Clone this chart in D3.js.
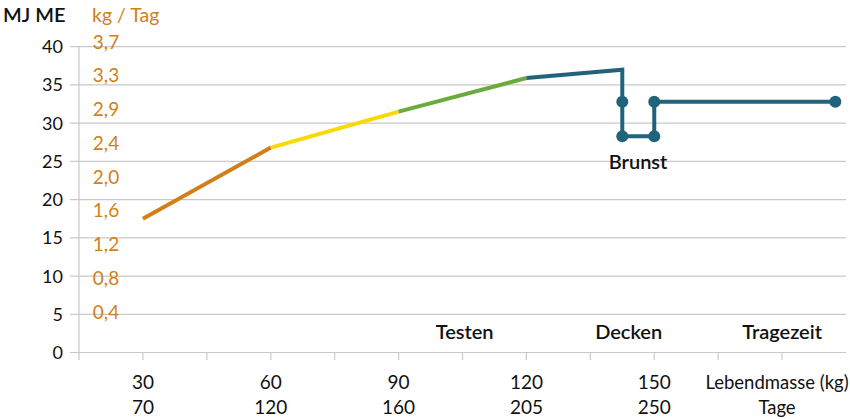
<!DOCTYPE html>
<html>
<head>
<meta charset="utf-8">
<script src="https://cdn.jsdelivr.net/npm/d3@7"></script>
<style>
  body { margin: 0; background: #fff; }
  svg { display: block; font-family: Lato, "Open Sans", sans-serif; }
</style>
</head>
<body>
<div id="chart"></div>
<script>
// values
const massTicks = [30, 60, 90, 120, 150];
const dayLabels = ["70", "120", "160", "205", "250"];
const energyTicks = [0, 5, 10, 15, 20, 25, 30, 35, 40];
const intakeLabels = ["3,7", "3,3", "2,9", "2,4", "2,0", "1,6", "1,2", "0,8", "0,4"];

const growthMass = [30, 60, 90, 120];
const growthME = [17.5, 26.8, 31.5, 35.9];
const growthColors = ["#d27f19", "#fbd900", "#6aab3b"];

const breedMass = [120, 142.5, 142.5, 142.5, 150, 150, 192.5];
const breedME = [35.9, 37, 32.8, 28.3, 28.3, 32.8, 32.8];

const phaseNames = ["Testen", "Decken", "Tragezeit"];
const phaseMass = [105.5, 144, 180];

const width = 850, height = 419;
const orange = "#d27f19";
const teal = "#21637a";
const grid = "#c9c9c9";

const svg = d3.select("#chart").append("svg")
  .attr("width", width)
  .attr("height", height);

const x = d3.scaleLinear().domain([15, 195]).range([79, 846]);
const y = d3.scaleLinear().domain([0, 40]).range([352.5, 46.7]);
const yIntake = d3.scalePoint().domain(intakeLabels).range([41.7, 312]);

// gridlines + y ticks
svg.append("g")
  .selectAll("line")
  .data(energyTicks)
  .join("line")
  .attr("x1", 70)
  .attr("x2", 846)
  .attr("y1", d => y(d))
  .attr("y2", d => y(d))
  .attr("stroke", grid)
  .attr("stroke-width", 1.2);

svg.append("line")
  .attr("x1", x(15)).attr("x2", x(15))
  .attr("y1", y(40)).attr("y2", 360)
  .attr("stroke", grid)
  .attr("stroke-width", 1.2);

// x ticks every 15 kg
svg.append("g")
  .selectAll("line")
  .data(d3.range(30, 195, 15))
  .join("line")
  .attr("x1", d => x(d)).attr("x2", d => x(d))
  .attr("y1", y(0)).attr("y2", 360)
  .attr("stroke", grid)
  .attr("stroke-width", 1.2);

svg.append("g")
  .selectAll("text")
  .data(energyTicks)
  .join("text")
  .attr("x", 63)
  .attr("y", d => y(d))
  .attr("dy", "0.36em")
  .attr("text-anchor", "end")
  .style("font-size", "18px")
  .attr("fill", "#111")
  .text(d => d);

svg.append("g")
  .selectAll("text")
  .data(intakeLabels)
  .join("text")
  .attr("x", 106)
  .attr("y", d => yIntake(d))
  .attr("dy", "0.36em")
  .attr("text-anchor", "middle")
  .style("font-size", "19px")
  .attr("fill", orange)
  .text(d => d);

svg.append("text")
  .attr("x", 3).attr("y", 22)
  .style("font-size", "20px")
  .style("font-weight", 600)
  .attr("fill", "#111")
  .text("MJ ME");

svg.append("text")
  .attr("x", 92).attr("y", 22)
  .style("font-size", "19.5px")
  .attr("fill", orange)
  .text("kg / Tag");

// x labels
const xl = svg.append("g");
xl.selectAll("text.kg")
  .data(massTicks)
  .join("text")
  .attr("class", "kg")
  .attr("x", d => x(d))
  .attr("y", 382)
  .attr("dy", "0.36em")
  .attr("text-anchor", "middle")
  .style("font-size", "19px")
  .attr("fill", "#111")
  .text(d => d);

xl.selectAll("text.day")
  .data(dayLabels)
  .join("text")
  .attr("class", "day")
  .attr("x", (d, i) => x(massTicks[i]))
  .attr("y", 407)
  .attr("dy", "0.36em")
  .attr("text-anchor", "middle")
  .style("font-size", "19px")
  .attr("fill", "#111")
  .text(d => d);

xl.append("text")
  .attr("x", 777).attr("y", 382).attr("dy", "0.36em")
  .attr("text-anchor", "middle")
  .style("font-size", "18.5px")
  .attr("fill", "#111")
  .text("Lebendmasse (kg)");

xl.append("text")
  .attr("x", 777).attr("y", 407).attr("dy", "0.36em")
  .attr("text-anchor", "middle")
  .style("font-size", "18.5px")
  .attr("fill", "#111")
  .text("Tage");

// growth segments
const seg = svg.append("g");
growthColors.forEach((c, i) => {
  seg.append("line")
    .attr("x1", x(growthMass[i])).attr("y1", y(growthME[i]))
    .attr("x2", x(growthMass[i + 1])).attr("y2", y(growthME[i + 1]))
    .attr("stroke", c)
    .attr("stroke-width", 4);
});

const breedPts = breedMass.map((m, i) => [m, breedME[i]]);
svg.append("path")
  .datum(breedPts)
  .attr("d", d3.line().x(d => x(d[0])).y(d => y(d[1])))
  .attr("fill", "none")
  .attr("stroke", teal)
  .attr("stroke-width", 4)
  .attr("stroke-linejoin", "miter");

svg.append("g")
  .selectAll("circle")
  .data(breedPts.slice(2))
  .join("circle")
  .attr("cx", d => x(d[0]))
  .attr("cy", d => y(d[1]))
  .attr("r", 6)
  .attr("fill", teal);

// phase labels
svg.append("g")
  .selectAll("text")
  .data(phaseNames)
  .join("text")
  .attr("x", (d, i) => x(phaseMass[i]))
  .attr("y", 332)
  .attr("dy", "0.36em")
  .attr("text-anchor", "middle")
  .style("font-size", "20px")
  .style("font-weight", 600)
  .attr("fill", "#111")
  .text(d => d);

svg.append("text")
  .attr("x", x(146.2))
  .attr("y", 162)
  .attr("dy", "0.36em")
  .attr("text-anchor", "middle")
  .style("font-size", "20px")
  .style("font-weight", 600)
  .attr("fill", "#111")
  .text("Brunst");
</script>
</body>
</html>
